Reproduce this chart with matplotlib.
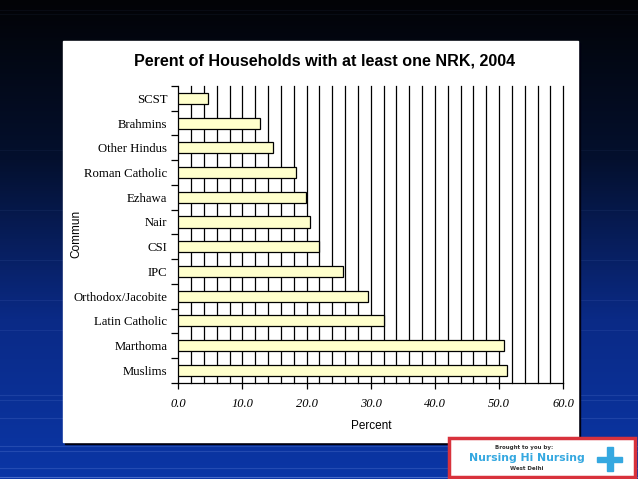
import numpy as np
import matplotlib
matplotlib.use("Agg")
import matplotlib.pyplot as plt
from matplotlib.patches import Rectangle
from matplotlib.colors import LinearSegmentedColormap

# data, top to bottom as drawn
communities = ["SCST", "Brahmins", "Other Hindus", "Roman Catholic", "Ezhawa", "Nair",
               "CSI", "IPC", "Orthodox/Jacobite", "Latin Catholic", "Marthoma", "Muslims"]
percent = [4.6, 12.8, 14.7, 18.4, 19.9, 20.5, 21.9, 25.7, 29.6, 32.0, 50.8, 51.2]
x_ticks = [0, 10, 20, 30, 40, 50, 60]

W, H = 638, 479
fig = plt.figure(figsize=(W / 100, H / 100), dpi=100)

# slide background: dark at the top, blue at the bottom, with faint stripes
bg = fig.add_axes([0, 0, 1, 1])
bg.set_axis_off()
cmap = LinearSegmentedColormap.from_list("slide", ["#020306", "#04102e", "#0a2a86", "#0b36a6"])
grad = np.linspace(0, 1, 256).reshape(-1, 1)
bg.imshow(grad, aspect="auto", cmap=cmap, extent=[0, W, H, 0])
for y, a in [(10, .06), (14, .06), (150, .06), (210, .08), (260, .1), (300, .12),
             (330, .12), (395, .18), (400, .16), (418, .2), (446, .25), (451, .25),
             (468, .25), (477, .6)]:
    bg.axhline(y, color="#6f8fe0", lw=0.8, alpha=a)
bg.set_xlim(0, W)
bg.set_ylim(H, 0)

# white chart box with a dark shadow
bg.add_patch(Rectangle((65, 43), 515, 401, color="#000010", zorder=2))
bg.add_patch(Rectangle((63, 41), 515, 401, color="white", zorder=3))

# logo box
bg.add_patch(Rectangle((449, 438), 186, 39, facecolor="white", edgecolor="#d8323c", lw=2.5, zorder=3))
bg.text(524, 447, "Brought to you by:", fontsize=4, fontweight="bold", color="#333333",
        ha="center", va="center", zorder=4)
bg.text(527, 458, "Nursing Hi Nursing", fontsize=7.8, fontweight="bold",
        color="#35a8e0", ha="center", va="center", zorder=4, family="DejaVu Sans")
bg.text(527, 468, "West Delhi", fontsize=4, fontweight="bold", color="#333333",
        ha="center", va="center", zorder=4)
bg.add_patch(Rectangle((597, 457), 25, 5, color="#35a8e0", zorder=4))
bg.add_patch(Rectangle((606.5, 447), 6, 24, color="#35a8e0", zorder=4))

ax = fig.add_axes([178.3 / W, 1 - 382.7 / H, 385 / W, (382.7 - 86) / H])
ax.set_facecolor("white")
ax.set_zorder(5)

pos = np.arange(len(communities))
for g in range(2, 61, 2):
    ax.axvline(g, color="black", lw=0.9, zorder=1, clip_on=False)
ax.barh(pos, percent, height=0.45, color="#ffffcc", edgecolor="black", lw=0.9, zorder=3)

ax.set_xlim(0, 60)
ax.set_ylim(len(communities) - 0.5, -0.5)
ax.set_xticks(x_ticks)
ax.set_xticklabels([f"{v:.1f}" for v in x_ticks], family="Liberation Serif",
                   style="italic", fontsize=9)
ax.set_yticks(np.arange(len(communities) + 1) - 0.5)
ax.set_yticklabels([])
ax.set_yticks(pos, minor=True)
ax.set_yticklabels(communities, minor=True, family="Liberation Serif", fontsize=9.2)
ax.tick_params(axis="y", which="minor", length=0, pad=8)
ax.tick_params(axis="y", which="major", length=5, width=0.9)
ax.tick_params(axis="x", length=4, width=0.9, pad=7)

for s in ["top", "right"]:
    ax.spines[s].set_visible(False)
for s in ["left", "bottom"]:
    ax.spines[s].set_linewidth(0.9)

ax.set_xlabel("Percent", fontsize=8.5, family="Liberation Sans", labelpad=7)
ax.set_ylabel("Commun", fontsize=8.5, family="Liberation Sans")
ax.yaxis.set_label_coords(-0.25, 0.5)
fig.text(325 / W, 1 - 61 / H, "Perent of Households with at least one NRK, 2004",
         fontsize=11.6, fontweight="bold", family="Liberation Sans", ha="center", va="center")

fig.savefig("out.png", dpi=100)
